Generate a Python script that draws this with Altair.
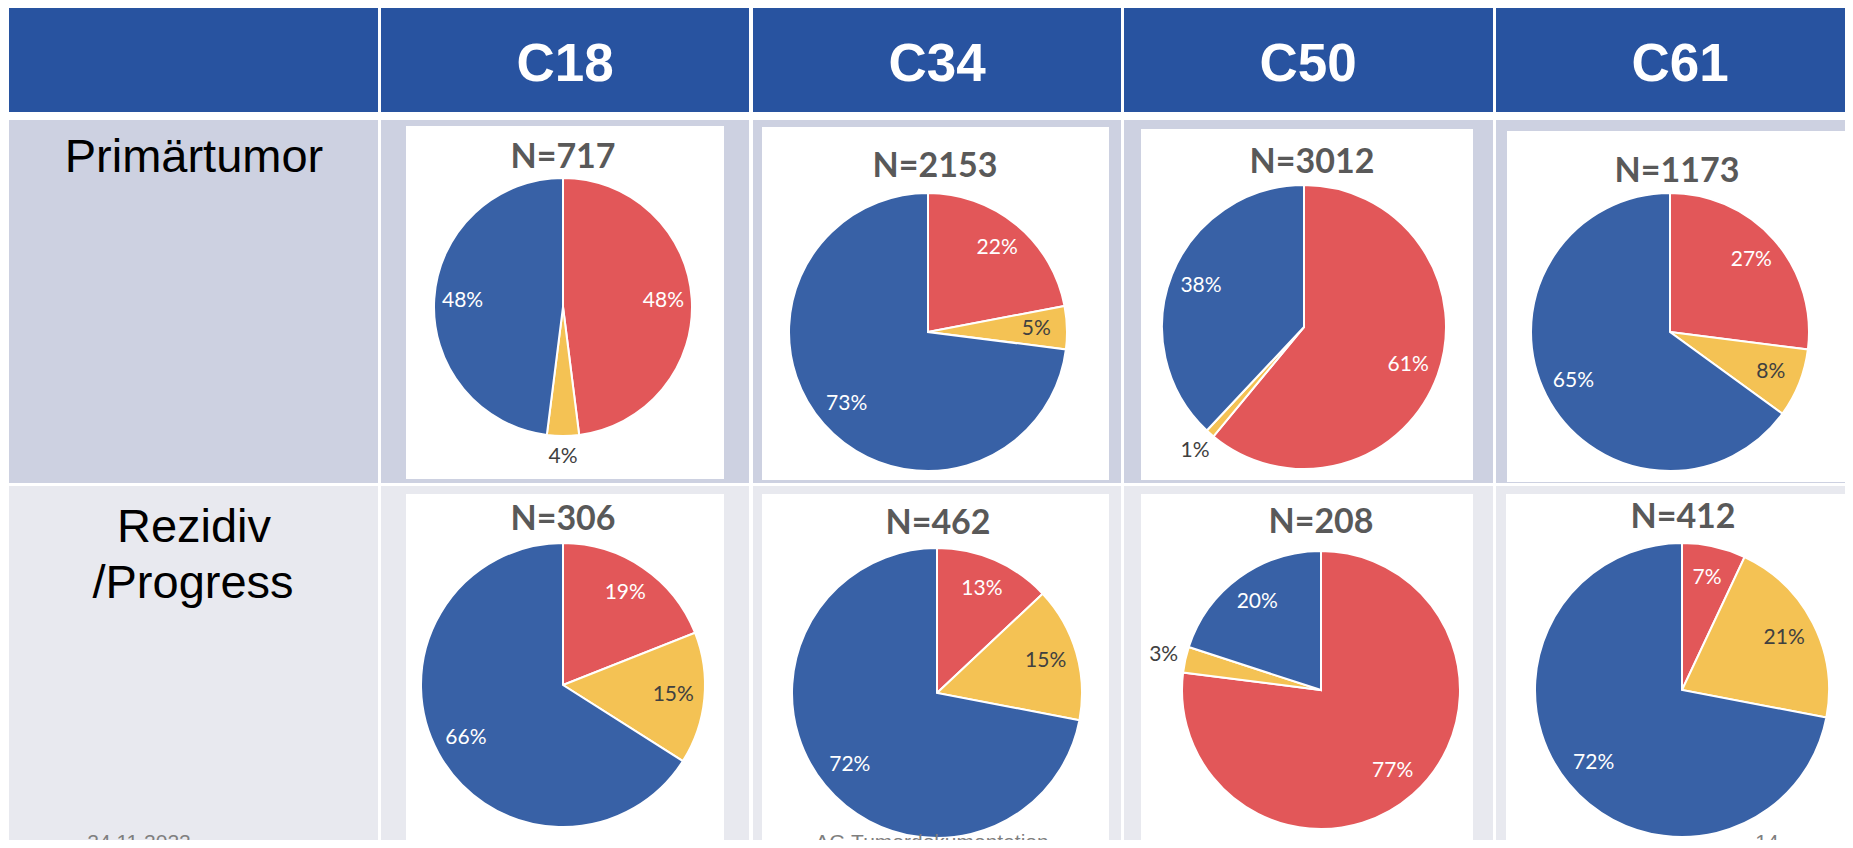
import altair as alt
import pandas as pd

# ---------------- data ----------------
sites = ["C18", "C34", "C50", "C61"]
row_names = ["Primärtumor", "Rezidiv/Progress"]
cats = ["Kategorie 1", "Kategorie 2", "Kategorie 3"]

n_primary = [717, 2153, 3012, 1173]
n_recur = [306, 462, 208, 412]

red_primary = [48, 22, 61, 27]
yellow_primary = [4, 5, 1, 8]
blue_primary = [48, 73, 38, 65]

red_recur = [19, 13, 77, 7]
yellow_recur = [15, 15, 3, 21]
blue_recur = [66, 72, 20, 72]

footer_texts = ["24.11.2022", "AG Tumordokumentation", "14"]

records = []
for ri, (reds, yels, blus) in enumerate([(red_primary, yellow_primary, blue_primary),
                                         (red_recur, yellow_recur, blue_recur)]):
    for si, s in enumerate(sites):
        for k, v in enumerate([reds[si], yels[si], blus[si]]):
            records.append({"pie": f"{s}-{ri}", "site": s, "row": row_names[ri],
                            "cat": cats[k], "k": k, "value": v})
df = pd.DataFrame(records)
one = pd.DataFrame({"a": [0]})

# ---------------- style / layout ----------------
RED, YEL, BLU = "#E25759", "#F4C254", "#3861A6"
HEAD = "#2853A0"
ROW1 = "#CDD1E1"
ROW2 = "#E8E9EF"
W, H = 1837, 832

col_x = [(1, 370), (373, 741), (745, 1113), (1116, 1485), (1488, 1837)]
head_y = (0, 104)
row_y = [(112, 475), (478, 832)]
head_text_x = [557, 929, 1300, 1672]

boxes = [
    [(398, 716, 118, 471), (754, 1101, 119, 472), (1133, 1465, 121, 472), (1499, 1837, 123, 474)],
    [(398, 716, 486, 833), (754, 1101, 486, 833), (1133, 1465, 486, 833), (1498, 1837, 486, 833)],
]
pie_geo = [
    [(555, 299, 129), (920, 324, 139), (1296, 319, 142), (1662, 324, 139)],
    [(555, 677, 142), (929, 685, 145), (1313, 682, 139), (1674, 682, 147)],
]
title_pos = [
    [(555, 160), (927, 169), (1304, 165), (1669, 174)],
    [(555, 522), (930, 526), (1313, 525), (1675, 520)],
]
footer_pos = [(131, 824), (924, 824), (1759, 824)]

layers = []


def rect(x0, x1, y0, y1, color):
    return alt.Chart(one).mark_rect(fill=color, strokeWidth=0).encode(
        x=alt.value(x0), x2=alt.value(x1), y=alt.value(y0), y2=alt.value(y1))


def label(txt, x, y, size, color, font, weight="normal", baseline="alphabetic", clip=False):
    return alt.Chart(one).mark_text(
        text=txt, fontSize=size, color=color, font=font, fontWeight=weight,
        align="center", baseline=baseline, clip=clip
    ).encode(x=alt.value(x), y=alt.value(y))


# header row
for (x0, x1) in col_x:
    layers.append(rect(x0, x1, head_y[0], head_y[1], HEAD))
# body rows
for ri, (y0, y1) in enumerate(row_y):
    for (x0, x1) in col_x:
        layers.append(rect(x0, x1, y0, y1, ROW1 if ri == 0 else ROW2))
# white picture boxes
for ri in range(2):
    for (x0, x1, y0, y1) in boxes[ri]:
        layers.append(rect(x0, x1, y0, y1, "#FFFFFF"))

# header texts
for si, s in enumerate(sites):
    layers.append(label(s, head_text_x[si], 73, 53, "#FFFFFF", "Liberation Sans, Arial", "bold"))

# row labels
layers.append(label("Primärtumor", 186, 164, 47, "#000000", "Liberation Sans, Arial"))
layers.append(label("Rezidiv", 186, 534, 47, "#000000", "Liberation Sans, Arial"))
layers.append(label("/Progress", 185, 590, 47, "#000000", "Liberation Sans, Arial"))

# pies
color_scale = alt.Scale(domain=cats, range=[RED, YEL, BLU])
theta = alt.Theta("value:Q", stack=True, scale=alt.Scale(domain=[0, 100]))
order = alt.Order("k:Q", sort="ascending")
totals = [n_primary, n_recur]
for ri in range(2):
    for si, s in enumerate(sites):
        cx, cy, r = pie_geo[ri][si]
        base = alt.Chart(df).transform_filter(alt.datum.pie == f"{s}-{ri}").transform_calculate(
            lab="datum.value + '%'")
        arc = base.mark_arc(radius=r, stroke="#FFFFFF", strokeWidth=2).encode(
            x=alt.value(cx), y=alt.value(cy), theta=theta, order=order,
            color=alt.Color("cat:N", scale=color_scale, legend=None))
        inside = base.mark_text(radius=r * 0.78, fontSize=21, font="Lato",
                                align="center", baseline="middle").encode(
            x=alt.value(cx), y=alt.value(cy), theta=theta, order=order,
            text=alt.condition("datum.value > 4", "lab:N", alt.value("")),
            color=alt.condition(alt.datum.cat == cats[1], alt.value("#404040"), alt.value("#FFFFFF")))
        outside = base.mark_text(radius=r * 1.16, fontSize=21, font="Lato", color="#404040",
                                 align="center", baseline="middle").encode(
            x=alt.value(cx), y=alt.value(cy), theta=theta, order=order,
            text=alt.condition("datum.value <= 4", "lab:N", alt.value("")))
        layers += [arc, inside, outside]
        tx, ty = title_pos[ri][si]
        layers.append(label(f"N={totals[ri][si]}", tx, ty, 34, "#595959", "Lato", "bold"))

# footer (cut off at the bottom edge like the slide)
for t, (fx, fy) in zip(footer_texts, footer_pos):
    layers.append(label(t, fx, fy, 21, "#7F7F7F", "Liberation Sans, Arial", baseline="top", clip=True))

chart = alt.layer(*layers).properties(
    width=W, height=H, padding=0,
    autosize=alt.AutoSizeParams(type="none")
).configure_view(stroke=None)

chart.save("out.html", embed_options={"renderer": "svg", "actions": False})
